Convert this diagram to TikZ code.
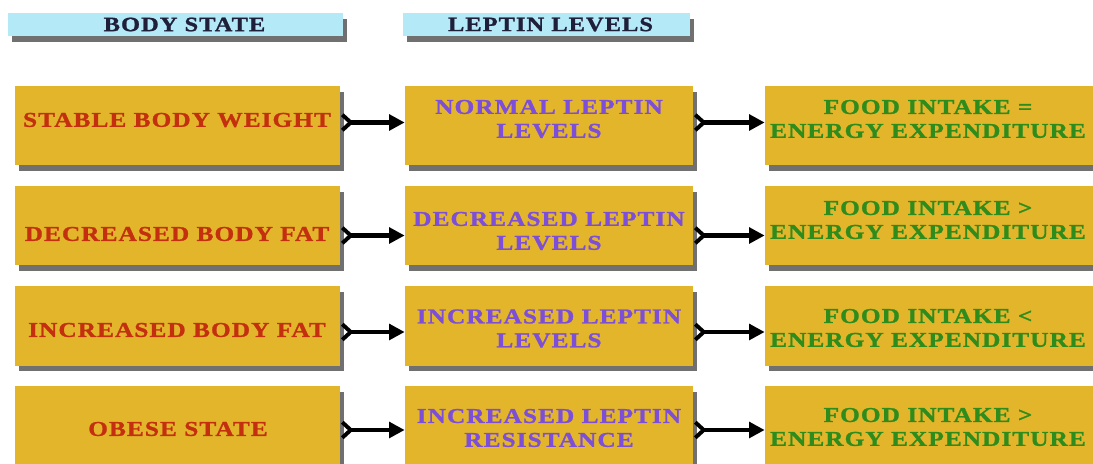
\documentclass[tikz,border=0pt]{standalone}
\usepackage{fontspec}
\newfontfamily\capfont{Liberation Serif}[FakeStretch=1.2, LetterSpace=5, BoldFeatures={FakeBold=1.2}]
\usetikzlibrary{arrows.meta, shadows}

\definecolor{boxgold}{HTML}{E2B52B}
\definecolor{statered}{HTML}{C4300F}
\definecolor{leptinviolet}{HTML}{7D4ED8}
\definecolor{intakegreen}{HTML}{2E8C1C}
\definecolor{headcyan}{HTML}{B4EAF8}
\definecolor{headink}{HTML}{1F1F3A}

\begin{document}
\begin{tikzpicture}[x=0.025cm, y=-0.025cm,
    %Styles
    shade box/.style={drop shadow={shadow xshift=0.1cm, shadow yshift=-0.14cm, fill=black!80, opacity=0.7}},
    box/.style={shade box, fill=boxgold, minimum height=1.975cm, inner sep=0pt},
    head/.style={shade box, fill=headcyan, minimum height=0.575cm, inner sep=0pt,
      text=headink, font=\capfont\bfseries\fontsize{14.5}{16}\selectfont},
    label text/.style={align=center, inner sep=0pt, font=\capfont\bfseries\fontsize{15}{17}\selectfont},
    link/.style={{Straight Barb[reversed, length=6pt, width=11pt, line width=2.8pt]}-{Triangle[length=11pt, width=11pt]},
      line width=3.4pt, black}]
    \useasboundingbox (0,0) rectangle (1093,464);

    %Headers
    \node[head, minimum width=8.375cm] (head state) at (175.5,24.5) {\hspace*{0.45cm}BODY STATE};
    \node[head, minimum width=7.175cm] (head leptin) at (546.5,24.5) {\hspace*{0.2cm}LEPTIN LEVELS};

    %The boxes
    \foreach \n/\y in {1/125.5, 2/225.5, 3/326, 4/426}{
      \node[box, minimum width=8.125cm] (state\n) at (177.5,\y) {};
      \node[box, minimum width=7.2cm] (leptin\n) at (549,\y) {};
      \node[box, minimum width=8.5cm] (intake\n) at (935,\y) {};
    }

    %Texts
    \begin{scope}[label text, text=statered]
      \node (t-state1) at (177,120) {STABLE BODY WEIGHT};
      \node (t-state2) at (177,234) {DECREASED BODY FAT};
      \node (t-state3) at (177,330) {INCREASED BODY FAT};
      \node (t-state4) at (178,429) {OBESE STATE};
    \end{scope}
    \begin{scope}[label text, text=leptinviolet]
      \node (t-leptin1) at (549,119) {NORMAL LEPTIN\\LEVELS};
      \node (t-leptin2) at (549,231) {DECREASED LEPTIN\\LEVELS};
      \node (t-leptin3) at (549,328.5) {INCREASED LEPTIN\\LEVELS};
      \node (t-leptin4) at (549,428) {INCREASED LEPTIN\\RESISTANCE};
    \end{scope}
    \begin{scope}[label text, text=intakegreen]
      \node (t-intake1) at (928,119) {FOOD INTAKE =\\ENERGY EXPENDITURE};
      \node (t-intake2) at (928,220) {FOOD INTAKE >\\ENERGY EXPENDITURE};
      \node (t-intake3) at (928,328) {FOOD INTAKE <\\ENERGY EXPENDITURE};
      \node (t-intake4) at (928,427) {FOOD INTAKE >\\ENERGY EXPENDITURE};
    \end{scope}

    %Arrows
    \foreach \n/\s in {1/3, 2/-10, 3/-6, 4/-4}{
      \draw[link] ([yshift=\s*0.025cm]state\n.east) -- ([yshift=\s*0.025cm]leptin\n.west);
      \draw[link] ([yshift=\s*0.025cm]leptin\n.east) -- ([yshift=\s*0.025cm]intake\n.west);
    }
\end{tikzpicture}
\end{document}
